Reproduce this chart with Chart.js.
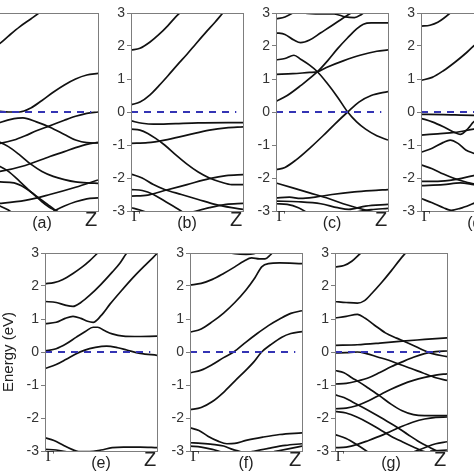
<!DOCTYPE html>
<html>
<head>
<meta charset="utf-8">
<script src="https://cdn.jsdelivr.net/npm/chart.js@4"></script>
<style>
  html, body { margin: 0; padding: 0; background: #fff; }
  body { width: 474px; height: 474px; position: relative; overflow: hidden; }
  canvas { position: absolute; }
</style>
</head>
<body>
<canvas id="panel-a"></canvas>
<canvas id="panel-b"></canvas>
<canvas id="panel-c"></canvas>
<canvas id="panel-d"></canvas>
<canvas id="panel-e"></canvas>
<canvas id="panel-f"></canvas>
<canvas id="panel-g"></canvas>
<script>
// tick values and path labels
const energyTicks = [-3, -2, -1, 0, 1, 2, 3];
const kLabels = ["Γ", "Z"];
const panelTags = ["(a)", "(b)", "(c)", "(d)", "(e)", "(f)", "(g)"];
const fermiLine = [[0, 0], [0.94, 0]];

// bands: [k (0 = Γ, 1 = Z), energy in eV]
const bandsA = [
    [[0, 1.78], [0.125, 2.08], [0.2, 2.3], [0.3, 2.58], [0.4, 2.82], [0.48, 3.02], [0.55, 3.25]],
    [[0, 0.06], [0.125, 0.02], [0.2, 0.0], [0.3, 0.0], [0.4, 0.12], [0.5, 0.35], [0.6, 0.6], [0.7, 0.82], [0.8, 1.0], [0.9, 1.12], [1, 1.17]],
    [[0, -0.5], [0.125, -0.32], [0.25, -0.2], [0.33, -0.18], [0.45, -0.3], [0.57, -0.46], [0.7, -0.68], [0.8, -0.85], [0.9, -0.93], [1, -0.94]],
    [[0, -1.0], [0.125, -0.95], [0.25, -0.85], [0.35, -0.72], [0.45, -0.57], [0.57, -0.42], [0.7, -0.25], [0.8, -0.13], [0.9, -0.04], [1, 0.0]],
    [[0, -0.8], [0.125, -0.92], [0.2, -1.05], [0.3, -1.3], [0.4, -1.58], [0.5, -1.8], [0.6, -1.95], [0.7, -2.05], [0.8, -2.12], [0.9, -2.15], [1, -2.16]],
    [[0, -1.85], [0.125, -1.8], [0.35, -1.62], [0.57, -1.35], [0.7, -1.2], [0.8, -1.08], [0.9, -0.98], [1, -0.92]],
    [[0, -1.5], [0.125, -1.65], [0.2, -1.8], [0.3, -2.1], [0.4, -2.42], [0.5, -2.72], [0.58, -2.92], [0.62, -2.98], [0.68, -3.1]],
    [[0.56, -3.1], [0.62, -2.98], [0.7, -2.85], [0.8, -2.72], [0.9, -2.63], [1, -2.6]],
    [[0, -2.8], [0.125, -2.77], [0.35, -2.68], [0.57, -2.5], [0.8, -2.28], [1, -2.06]],
    [[0, -2.1], [0.125, -2.12], [0.25, -2.15], [0.35, -2.3], [0.45, -2.55], [0.55, -2.8], [0.62, -2.98], [0.66, -3.1]],
    [[0, -2.7], [0.125, -2.85], [0.2, -2.97], [0.25, -3.1]]
];

const bandsB = [
    [[0, 1.88], [0.08, 1.93], [0.17, 2.12], [0.25, 2.35], [0.33, 2.62], [0.41, 2.92], [0.44, 3.02], [0.5, 3.3]],
    [[0, 0.22], [0.08, 0.3], [0.17, 0.52], [0.25, 0.8], [0.33, 1.1], [0.42, 1.45], [0.5, 1.75], [0.58, 2.07], [0.67, 2.42], [0.75, 2.72], [0.82, 3.0], [0.9, 3.3]],
    [[0, -0.27], [0.1, -0.34], [0.2, -0.37], [0.4, -0.35], [0.6, -0.33], [1, -0.32]],
    [[0, -0.52], [0.08, -0.55], [0.15, -0.65], [0.22, -0.8], [0.3, -1.0], [0.4, -1.3], [0.5, -1.58], [0.6, -1.82], [0.7, -2.0], [0.8, -2.12], [0.9, -2.2], [1, -2.2]],
    [[0, -0.95], [0.15, -0.93], [0.3, -0.85], [0.5, -0.7], [0.7, -0.55], [0.85, -0.48], [1, -0.45]],
    [[0, -1.88], [0.1, -2.0], [0.2, -2.2], [0.3, -2.35], [0.45, -2.5], [0.6, -2.65], [0.75, -2.8], [0.9, -2.9], [1, -2.95]],
    [[0, -2.35], [0.1, -2.38], [0.2, -2.5], [0.3, -2.7], [0.4, -2.9], [0.47, -3.05]],
    [[0, -2.55], [0.15, -2.52], [0.3, -2.38], [0.5, -2.2], [0.7, -2.02], [0.85, -1.93], [1, -1.9]],
    [[0, -2.9], [0.08, -2.97], [0.15, -3.05]],
    [[0.55, -3.03], [0.7, -2.9], [0.85, -2.8], [1, -2.77]]
];

const bandsC = [
    [[0, 2.82], [0.08, 2.88], [0.15, 3.0], [0.2, 3.1]],
    [[0.15, 3.1], [0.25, 3.0], [0.4, 2.97], [0.52, 2.97], [0.62, 2.88], [0.7, 2.86], [0.76, 2.95], [0.8, 3.05]],
    [[0, 0.32], [0.1, 0.5], [0.22, 0.8], [0.37, 1.22], [0.46, 1.55], [0.55, 1.92], [0.64, 2.25], [0.72, 2.52], [0.78, 2.66], [0.85, 2.7], [1, 2.7]],
    [[0, 2.4], [0.08, 2.35], [0.16, 2.18], [0.22, 2.1], [0.3, 2.18], [0.4, 2.4], [0.5, 2.62], [0.6, 2.85], [0.67, 3.0], [0.72, 3.1]],
    [[0, 1.58], [0.08, 1.62], [0.16, 1.72], [0.22, 1.6], [0.3, 1.42], [0.37, 1.22], [0.45, 0.9], [0.55, 0.45], [0.64, 0.0], [0.72, -0.3], [0.8, -0.52], [0.9, -0.72], [1, -0.85]],
    [[0, 1.14], [0.15, 1.16], [0.3, 1.2], [0.37, 1.22], [0.45, 1.35], [0.6, 1.55], [0.75, 1.72], [0.9, 1.84], [1, 1.88]],
    [[0, -1.75], [0.08, -1.68], [0.18, -1.45], [0.3, -1.1], [0.42, -0.72], [0.53, -0.35], [0.64, 0.0], [0.74, 0.3], [0.85, 0.5], [1, 0.62]],
    [[0, -2.15], [0.15, -2.3], [0.3, -2.45], [0.45, -2.6], [0.6, -2.78], [0.72, -2.9], [0.8, -2.97], [0.9, -3.05]],
    [[0, -2.6], [0.12, -2.58], [0.22, -2.62], [0.35, -2.58], [0.5, -2.5], [0.7, -2.42], [0.85, -2.38], [1, -2.35]],
    [[0, -2.78], [0.1, -2.8], [0.2, -2.9], [0.28, -3.05]],
    [[0, -2.7], [0.2, -2.72], [0.4, -2.78], [0.55, -2.9], [0.65, -2.95], [0.8, -2.85], [1, -2.8]],
    [[0.68, -3.05], [0.85, -2.96], [1, -2.92]]
];

const bandsD = [
    [[0, 2.6], [0.08, 2.63], [0.15, 2.72], [0.26, 3.0], [0.32, 3.2]],
    [[0, 0.96], [0.1, 1.05], [0.2, 1.25], [0.3, 1.5], [0.4, 1.78], [0.47, 2.0], [0.6, 2.3], [0.8, 2.6], [1, 2.7]],
    [[0, -0.07], [0.2, -0.08], [0.47, -0.1], [1, -0.1]],
    [[0, -0.19], [0.1, -0.3], [0.2, -0.45], [0.3, -0.62], [0.35, -0.68], [0.42, -0.5], [0.47, -0.3], [0.55, -0.18], [0.75, -0.2], [1, -0.25]],
    [[0, -0.7], [0.15, -0.66], [0.3, -0.62], [0.47, -0.52], [0.7, -0.4], [1, -0.35]],
    [[0, -1.22], [0.1, -1.1], [0.2, -0.92], [0.26, -0.85], [0.33, -0.95], [0.4, -1.15], [0.47, -1.25], [0.6, -1.4], [1, -1.6]],
    [[0, -1.6], [0.1, -1.72], [0.2, -1.88], [0.3, -2.02], [0.4, -2.12], [0.47, -2.18], [0.6, -2.3], [1, -2.4]],
    [[0, -2.1], [0.15, -2.1], [0.3, -2.05], [0.47, -1.93], [1, -1.7]],
    [[0, -2.23], [0.2, -2.2], [0.35, -2.15], [0.47, -2.2], [0.7, -2.3], [1, -2.35]],
    [[0, -2.62], [0.1, -2.75], [0.2, -2.9], [0.27, -2.98], [0.35, -2.92], [0.47, -2.77], [0.6, -2.6], [1, -2.4]]
];

const bandsE = [
    [[0, 2.07], [0.08, 2.1], [0.16, 2.2], [0.25, 2.38], [0.33, 2.57], [0.4, 2.77], [0.47, 3.0], [0.53, 3.2]],
    [[0, 1.53], [0.1, 1.5], [0.18, 1.42], [0.25, 1.38], [0.32, 1.5], [0.4, 1.72], [0.5, 2.05], [0.6, 2.42], [0.67, 2.7], [0.73, 3.0], [0.8, 3.25]],
    [[0, 0.86], [0.1, 0.9], [0.18, 1.02], [0.25, 1.08], [0.32, 1.02], [0.38, 0.93], [0.43, 0.9], [0.5, 1.1], [0.58, 1.45], [0.68, 1.85], [0.79, 2.27], [0.9, 2.65], [1, 2.98]],
    [[0, 0.03], [0.1, 0.1], [0.19, 0.25], [0.28, 0.45], [0.36, 0.62], [0.43, 0.75], [0.47, 0.75], [0.53, 0.65], [0.6, 0.55], [0.7, 0.48], [0.8, 0.47], [1, 0.48]],
    [[0, -0.5], [0.1, -0.38], [0.19, -0.22], [0.27, -0.07], [0.35, 0.05], [0.45, 0.14], [0.55, 0.18], [0.65, 0.13], [0.73, 0.06], [0.85, -0.04], [1, -0.1]],
    [[0, -2.6], [0.08, -2.68], [0.16, -2.82], [0.24, -2.95], [0.3, -3.02], [0.4, -3.02], [0.5, -2.97], [0.6, -2.9], [0.7, -2.88], [0.85, -2.88], [1, -2.9]],
    [[0, -2.95], [0.1, -2.97], [0.2, -3.03]]
];

const bandsF = [
    [[0, 2.03], [0.1, 2.08], [0.2, 2.2], [0.3, 2.38], [0.4, 2.58], [0.48, 2.75], [0.55, 2.85], [0.62, 2.82], [0.67, 2.82], [0.72, 2.95], [0.75, 3.05]],
    [[0.3, 3.05], [0.4, 2.98], [0.5, 2.96], [0.57, 2.98], [0.62, 3.05]],
    [[0, 0.6], [0.1, 0.7], [0.2, 0.92], [0.3, 1.18], [0.4, 1.5], [0.5, 1.88], [0.58, 2.25], [0.64, 2.58], [0.7, 2.68], [0.8, 2.7], [1, 2.68]],
    [[0, -0.63], [0.1, -0.55], [0.2, -0.38], [0.3, -0.17], [0.39, 0.0], [0.5, 0.3], [0.6, 0.56], [0.7, 0.8], [0.8, 1.0], [0.9, 1.17], [1, 1.25]],
    [[0, -1.75], [0.1, -1.68], [0.2, -1.5], [0.3, -1.22], [0.4, -0.88], [0.5, -0.55], [0.57, -0.3], [0.64, 0.0], [0.72, 0.22], [0.82, 0.45], [0.9, 0.56], [1, 0.62]],
    [[0, -2.3], [0.08, -2.38], [0.16, -2.55], [0.25, -2.7], [0.33, -2.78], [0.4, -2.77], [0.5, -2.68], [0.65, -2.58], [0.8, -2.5], [1, -2.45]],
    [[0, -2.75], [0.1, -2.77], [0.2, -2.8], [0.3, -2.85], [0.38, -2.95], [0.45, -3.02]],
    [[0, -2.85], [0.1, -2.88], [0.2, -2.95], [0.28, -3.03]],
    [[0.55, -3.02], [0.7, -2.92], [0.85, -2.83], [1, -2.78]],
    [[0.75, -3.02], [0.9, -2.92], [1, -2.85]]
];

const bandsG = [
    [[0, 2.58], [0.08, 2.62], [0.15, 2.75], [0.23, 3.0], [0.28, 3.15]],
    [[0, 1.53], [0.1, 1.5], [0.2, 1.48], [0.26, 1.55], [0.33, 1.78], [0.42, 2.12], [0.5, 2.45], [0.58, 2.8], [0.63, 3.0], [0.68, 3.2]],
    [[0, 1.03], [0.1, 1.08], [0.2, 1.14], [0.27, 1.02], [0.35, 0.82], [0.45, 0.58], [0.55, 0.42], [0.62, 0.32], [0.7, 0.2], [0.78, 0.07], [0.87, -0.05], [1, -0.14]],
    [[0, 0.2], [0.2, 0.22], [0.4, 0.27], [0.6, 0.33], [0.8, 0.38], [1, 0.43]],
    [[0, -0.03], [0.1, -0.02], [0.2, 0.0], [0.28, -0.05], [0.38, -0.15], [0.48, -0.25], [0.58, -0.38], [0.68, -0.5], [0.78, -0.63], [0.9, -0.78], [1, -0.86]],
    [[0, -0.56], [0.08, -0.63], [0.15, -0.78], [0.22, -0.92], [0.3, -1.1], [0.4, -1.33], [0.5, -1.58], [0.6, -1.78], [0.7, -1.9], [0.8, -1.93], [1, -1.93]],
    [[0, -0.97], [0.1, -0.95], [0.2, -0.88], [0.3, -0.78], [0.4, -0.62], [0.5, -0.45], [0.6, -0.3], [0.7, -0.16], [0.8, -0.05], [0.9, 0.01], [1, 0.03]],
    [[0, -1.72], [0.1, -1.7], [0.2, -1.62], [0.3, -1.48], [0.4, -1.3], [0.5, -1.13], [0.6, -0.98], [0.7, -0.86], [0.8, -0.77], [0.9, -0.7], [1, -0.66]],
    [[0, -1.3], [0.08, -1.38], [0.16, -1.52], [0.25, -1.68], [0.35, -1.87], [0.45, -2.07], [0.55, -2.27], [0.65, -2.5], [0.75, -2.72], [0.85, -2.9], [0.92, -3.02]],
    [[0, -1.8], [0.1, -1.85], [0.2, -1.98], [0.3, -2.15], [0.4, -2.35], [0.5, -2.55], [0.6, -2.72], [0.7, -2.88], [0.78, -3.0], [0.83, -3.05]],
    [[0, -2.9], [0.1, -2.88], [0.2, -2.8], [0.3, -2.68], [0.4, -2.55], [0.5, -2.4], [0.6, -2.25], [0.7, -2.12], [0.8, -2.03], [0.9, -1.98], [1, -1.97]],
    [[0, -2.5], [0.1, -2.62], [0.2, -2.82], [0.28, -3.0], [0.32, -3.1]],
    [[0.7, -3.03], [0.8, -2.9], [0.9, -2.78], [1, -2.72]],
    [[0.85, -3.0], [1, -2.97]]
];

// layout of the seven panels (plot-area corner in page pixels)
const AXIS_W = 45, PAD_TOP = 12, PLOT_W = 112, PLOT_H = 198, PAD_RIGHT = 10, PAD_BOTTOM = 30;
const panels = [
    { id: "panel-a", bands: bandsA, left: -14, top: 13 },
    { id: "panel-b", bands: bandsB, left: 131, top: 13 },
    { id: "panel-c", bands: bandsC, left: 276, top: 13 },
    { id: "panel-d", bands: bandsD, left: 421, top: 13 },
    { id: "panel-e", bands: bandsE, left: 45, top: 253, yTitle: "Energy (eV)" },
    { id: "panel-f", bands: bandsF, left: 190, top: 253 },
    { id: "panel-g", bands: bandsG, left: 335, top: 253 }
];

const sans = '"Liberation Sans", Arial, sans-serif';
const serif = '"Liberation Serif", "Times New Roman", serif';

// frame round the plot and the Γ / (x) / Z labels under it
const framePlugin = {
    id: "frame",
    afterDatasetsDraw(chart) {
        const { ctx, chartArea: a } = chart;
        ctx.save();
        ctx.strokeStyle = "#7d7d7d";
        ctx.lineWidth = 1;
        ctx.strokeRect(Math.round(a.left) + 0.5, Math.round(a.top) + 0.5,
            Math.round(a.right - a.left), Math.round(a.bottom - a.top));
        ctx.restore();
    },
    afterDraw(chart, args, opts) {
        const { ctx, chartArea: a } = chart;
        ctx.save();
        ctx.fillStyle = "#222";
        ctx.textAlign = "center";
        ctx.textBaseline = "alphabetic";
        ctx.font = "15px " + serif;
        ctx.fillText(kLabels[0], a.left + 5, a.bottom + 10);
        ctx.font = "16px " + sans;
        ctx.fillText(opts.tag, (a.left + a.right) / 2, a.bottom + 17);
        ctx.font = "20px " + sans;
        ctx.fillText(kLabels[1], a.right - 7, a.bottom + 15);
        ctx.restore();
    }
};

panels.forEach((p, i) => {
    const canvas = document.getElementById(p.id);
    canvas.width = AXIS_W + PLOT_W + PAD_RIGHT;
    canvas.height = PAD_TOP + PLOT_H + PAD_BOTTOM;
    canvas.style.left = (p.left - AXIS_W) + "px";
    canvas.style.top = (p.top - PAD_TOP) + "px";

    const datasets = p.bands.map(band => ({
        data: band.map(([k, e]) => ({ x: k, y: e })),
        borderColor: "#111",
        borderWidth: 1.7,
        pointRadius: 0,
        cubicInterpolationMode: "monotone",
        clip: 0
    }));
    datasets.push({
        data: fermiLine.map(([k, e]) => ({ x: k, y: e })),
        borderColor: "#3434b4",
        borderWidth: 2,
        borderDash: [7, 6],
        pointRadius: 0,
        order: -1
    });

    new Chart(canvas, {
        type: "line",
        data: { datasets },
        plugins: [framePlugin],
        options: {
            responsive: false,
            animation: false,
            events: [],
            layout: { padding: { top: PAD_TOP, right: PAD_RIGHT, bottom: PAD_BOTTOM, left: 0 } },
            plugins: {
                legend: { display: false },
                tooltip: { enabled: false },
                frame: { tag: panelTags[i] }
            },
            scales: {
                x: { type: "linear", min: 0, max: 1, display: false },
                y: {
                    min: -3,
                    max: 3,
                    afterBuildTicks: scale => { scale.ticks = energyTicks.map(v => ({ value: v })); },
                    afterFit: scale => { scale.width = AXIS_W; },
                    ticks: { color: "#333", padding: 2, font: { family: sans, size: 14 } },
                    grid: { drawOnChartArea: false, tickLength: 4, color: "#7d7d7d" },
                    border: { display: false },
                    title: {
                        display: !!p.yTitle,
                        text: p.yTitle || "",
                        color: "#222",
                        padding: 0,
                        font: { family: sans, size: 15 }
                    }
                }
            }
        }
    });
});
</script>
</body>
</html>
